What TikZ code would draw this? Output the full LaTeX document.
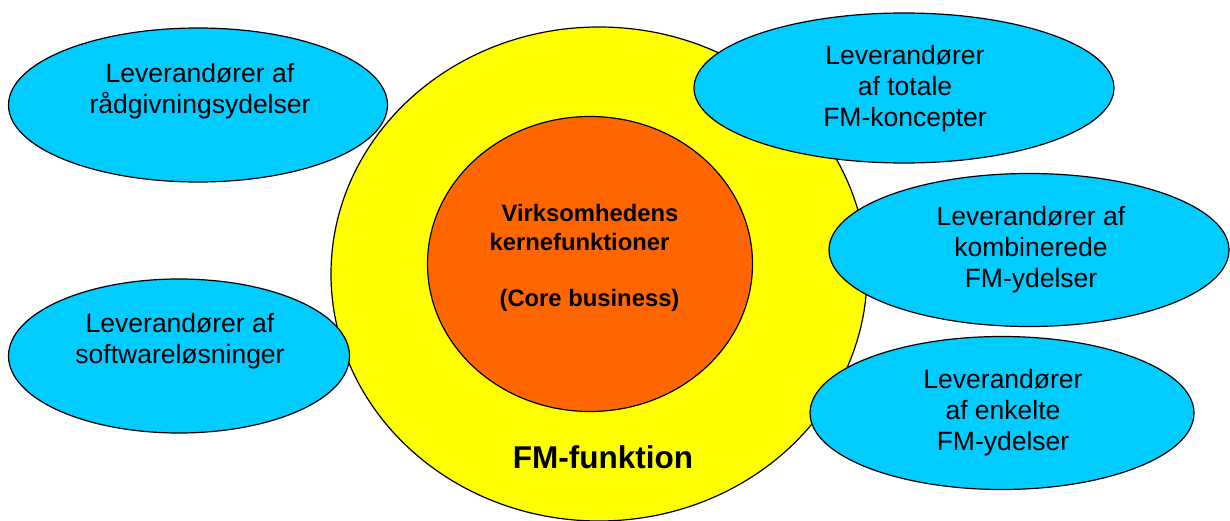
\documentclass[tikz,border=0pt]{standalone}
\usepackage{fontspec}
\setmainfont{Liberation Sans}
\usetikzlibrary{shapes.geometric}
\definecolor{fmblue}{HTML}{00CCFF}
\definecolor{fmyellow}{HTML}{FFFF00}
\definecolor{fmorange}{HTML}{FF6600}
\begin{document}
\begin{tikzpicture}[x=1pt,y=-1pt,
  shapeline/.style={ellipse, draw=black, line width=1.2pt, inner sep=0pt},
  blob/.style={shapeline, fill=fmblue},
  lab/.style={align=center, inner sep=0pt, font=\fontsize{26.5}{31}\selectfont},
  corelab/.style={inner sep=0pt, font=\fontsize{23.8}{29}\selectfont\bfseries},
]
\useasboundingbox (0,0) rectangle (1230,521);
% FM function and core
\node[shapeline, fill=fmyellow, minimum width=536pt, minimum height=494pt] (fm) at (599,274) {};
\node[shapeline, fill=fmorange, minimum width=325pt, minimum height=295pt] (core) at (590,264) {};
\node[corelab] (c1) at (590,213) {Virksomhedens};
\node[corelab] (c2) at (579.5,242) {kernefunktioner};
\node[corelab] (c3) at (589.5,300) {(Core business)};
\node[inner sep=0pt, font=\fontsize{31.5}{36}\selectfont\bfseries] (fmlab) at (603,457) {FM-funktion};
% supplier ellipses
\node[blob, minimum width=379pt, minimum height=154pt] (e1) at (198,105) {};
\node[blob, minimum width=341pt, minimum height=154pt] (e2) at (179,356) {};
\node[blob, minimum width=420pt, minimum height=150pt] (e3) at (904,88) {};
\node[blob, minimum width=400pt, minimum height=153pt] (e4) at (1029,250) {};
\node[blob, minimum width=384pt, minimum height=153pt] (e5) at (1002,413) {};
% labels
\node[lab] (t1) at (200,91) {Leverandører af\\rådgivningsydelser};
\node[lab] (t2) at (180,341.5) {Leverandører af\\softwareløsninger};
\node[lab] (t3) at (905,89) {Leverandører\\af totale\\FM-koncepter};
\node[lab] (t4) at (1031,250) {Leverandører af\\kombinerede\\FM-ydelser};
\node[lab] (t5) at (1003,413) {Leverandører\\af enkelte\\FM-ydelser};
\end{tikzpicture}
\end{document}
